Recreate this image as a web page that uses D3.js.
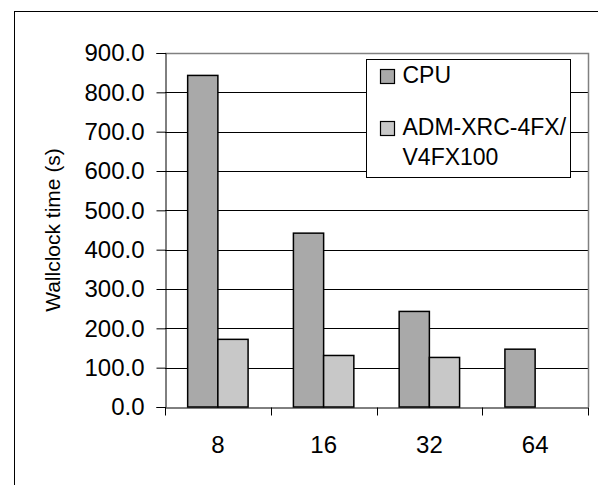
<!DOCTYPE html>
<html>
<head>
<meta charset="utf-8">
<script src="https://cdn.jsdelivr.net/npm/d3@7"></script>
<style>
  body { margin: 0; background: #fff; }
  text { font-family: "Liberation Sans", Arial, sans-serif; fill: #000; }
</style>
</head>
<body>
<div id="chart"></div>
<script>
// chart values
const categories = ["8", "16", "32", "64"];
const seriesNames = ["CPU", "ADM-XRC-4FX/V4FX100"];
const cpuTimes = [843, 442, 243, 147];
const fpgaTimes = [172, 131, 126, null];
const yTicks = [0, 100, 200, 300, 400, 500, 600, 700, 800, 900];

const colors = ["#a9a9a9", "#c8c8c8"];

const width = 598, height = 485;
const margin = {top: 53, right: 10, bottom: 78, left: 165};

const svg = d3.select("#chart").append("svg")
  .attr("width", width)
  .attr("height", height);

// outer chart frame (only left/top visible)
svg.append("rect")
  .attr("x", 14.5).attr("y", 11.5)
  .attr("width", 620).attr("height", 500)
  .attr("fill", "none").attr("stroke", "#000");

const x0 = d3.scaleBand()
  .domain(categories)
  .range([margin.left, width - margin.right])
  .padding(0);

const x1 = d3.scaleBand()
  .domain(seriesNames)
  .range([0, x0.bandwidth()])
  .paddingInner(0)
  .paddingOuter(0.75);

const y = d3.scaleLinear()
  .domain([0, 900])
  .range([height - margin.bottom, margin.top]);

// gridlines
svg.append("g")
  .selectAll("line")
  .data(yTicks.filter(d => d > 0 && d < 900))
  .join("line")
  .attr("x1", margin.left).attr("x2", width - margin.right)
  .attr("y1", d => Math.round(y(d)) + 0.5).attr("y2", d => Math.round(y(d)) + 0.5)
  .attr("stroke", "#000");

// plot area border top/right in gray
svg.append("path")
  .attr("d", `M${margin.left},${Math.round(y(900)) + 0.5}H${width - margin.right + 0.5}V${Math.round(y(0))}`)
  .attr("fill", "none")
  .attr("stroke", "#808080")
  .attr("stroke-width", 1.5);

// bars
const rows = categories.map((c, i) => ({cat: c, vals: [cpuTimes[i], fpgaTimes[i]]}));

const groups = svg.append("g")
  .selectAll("g")
  .data(rows)
  .join("g")
  .attr("transform", d => `translate(${x0(d.cat)},0)`);

groups.selectAll("rect")
  .data(d => d.vals.map((v, j) => ({name: seriesNames[j], v, j})).filter(e => e.v != null))
  .join("rect")
  .attr("x", d => x1(d.name))
  .attr("y", d => y(d.v))
  .attr("width", x1.bandwidth())
  .attr("height", d => y(0) - y(d.v))
  .attr("fill", d => colors[d.j])
  .attr("stroke", "#000")
  .attr("stroke-width", 1.5);

// y axis
const yAxis = d3.axisLeft(y)
  .tickValues(yTicks)
  .tickSize(9)
  .tickPadding(12)
  .tickFormat(d3.format(".1f"));

const gy = svg.append("g")
  .attr("transform", `translate(${margin.left + 0.5},0)`)
  .call(yAxis);
gy.select(".domain").attr("stroke", "#000");
gy.selectAll(".tick line").attr("stroke", "#000");
gy.selectAll("text")
  .attr("font-size", 24)
  .attr("font-family", "Liberation Sans, Arial, sans-serif");

// x axis
const xAxis = d3.axisBottom(x0).tickSize(0).tickPadding(0);
const gx = svg.append("g")
  .attr("transform", `translate(0,${Math.round(y(0)) + 0.5})`)
  .call(xAxis);
gx.select(".domain").attr("stroke", "#000");
gx.selectAll("text")
  .attr("y", 45).attr("dy", 0)
  .attr("font-size", 24)
  .attr("font-family", "Liberation Sans, Arial, sans-serif");

// tick marks between categories
const bounds = categories.map(c => x0(c)).concat([x0.range()[1]]);
gx.selectAll(".sep")
  .data(bounds)
  .join("line")
  .attr("class", "sep")
  .attr("x1", d => Math.round(d) + 0.5).attr("x2", d => Math.round(d) + 0.5)
  .attr("y1", 0).attr("y2", 8)
  .attr("stroke", "#000");

// axis title
svg.append("text")
  .attr("transform", `translate(60,${(y(0) + y(900)) / 2}) rotate(-90)`)
  .attr("text-anchor", "middle")
  .attr("font-size", 21)
  .text("Wallclock time (s)");

// legend
const legend = svg.append("g").attr("transform", "translate(366.5,59.5)");
legend.append("rect")
  .attr("width", 204).attr("height", 118)
  .attr("fill", "#fff").attr("stroke", "#000");

const legendLines = [["CPU"], ["ADM-XRC-4FX/", "V4FX100"]];
const legendY = [23, 75];
const items = legend.selectAll("g.item")
  .data(seriesNames)
  .join("g")
  .attr("class", "item")
  .attr("transform", (d, i) => `translate(0,${legendY[i]})`);

items.append("rect")
  .attr("x", 14).attr("y", -13)
  .attr("width", 14).attr("height", 14)
  .attr("fill", (d, i) => colors[i])
  .attr("stroke", "#000")
  .attr("stroke-width", 1.2);

items.append("text")
  .attr("x", 36).attr("y", 0)
  .attr("font-size", 23)
  .selectAll("tspan")
  .data((d, i) => legendLines[i])
  .join("tspan")
  .attr("x", 36)
  .attr("dy", (d, k) => k === 0 ? 0 : 30)
  .text(d => d);
</script>
</body>
</html>
